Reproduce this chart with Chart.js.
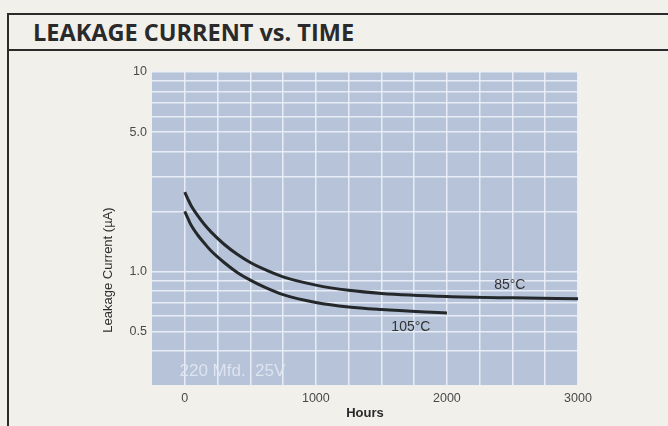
<!DOCTYPE html>
<html><head><meta charset="utf-8">
<script src="https://cdn.jsdelivr.net/npm/chart.js@4"></script>
<style>
html,body{margin:0;padding:0;background:#f1f0eb;}
#wrap{position:relative;width:668px;height:426px;overflow:hidden;background:#f1f0eb;}
#frame{position:absolute;left:7px;top:13px;width:720px;height:500px;border-top:2px solid #2b2b2b;border-left:2px solid #2b2b2b;}
#sep{position:absolute;left:8px;top:49px;width:720px;height:0;border-top:2px solid #2b2b2b;}
#title{position:absolute;left:33px;top:16px;font:bold 23.5px "Open Sans";line-height:32px;color:#2a2a2a;white-space:nowrap;}
canvas{position:absolute;left:0;top:0;}
</style></head>
<body><div id="wrap">
<div id="frame"></div><div id="sep"></div>
<div id="title">LEAKAGE CURRENT vs. TIME</div>
<canvas id="c" width="668" height="426"></canvas>
</div>
<script>
// ---- data ----
const hours85    = [0, 25, 50, 100, 150, 200, 300, 400, 500, 600, 750, 1000, 1250, 1500, 2000, 2500, 3000];
const current85  = [2.5, 2.3, 2.13, 1.9, 1.72, 1.58, 1.37, 1.22, 1.11, 1.03, 0.94, 0.855, 0.805, 0.777, 0.75, 0.738, 0.73];
const hours105   = [0, 25, 50, 100, 150, 200, 300, 400, 500, 600, 750, 1000, 1250, 1500, 2000];
const current105 = [2.0, 1.84, 1.7, 1.52, 1.385, 1.27, 1.11, 0.99, 0.905, 0.84, 0.766, 0.70, 0.664, 0.645, 0.62];
const seriesNames = ['85°C', '105°C'];
const xTickValues = [0, 1000, 2000, 3000];
const xGridValues = [0, 250, 500, 750, 1000, 1250, 1500, 1750, 2000, 2250, 2500, 2750, 3000];
const yTickValues = [0.5, 1, 5, 10];
const yTickText   = ['0.5', '1.0', '5.0', '10'];
const yGridValues = [0.4, 0.5, 0.6, 0.7, 0.8, 0.9, 1, 2, 3, 4, 5, 6, 7, 8, 9, 10];
const xTitle = 'Hours';
const yTitle = 'Leakage Current (µA)';
const noteText = '220 Mfd.  25V';

// ---- annotation placement (data coordinates) ----
const notes = [
  {text: seriesNames[0], x: 2480, y: 0.85, align: 'center', font: '14px "Liberation Sans"', color: '#333'},
  {text: seriesNames[1], x: 1725, y: 0.527, align: 'center', font: '14px "Liberation Sans"', color: '#333'},
  {text: noteText, x: -40, y: 0.317, align: 'left', font: '17px "Liberation Sans"', color: 'rgba(228,234,243,0.85)'}
];

const GRID = 'rgba(236,241,248,0.9)';

const decor = {
  id: 'decor',
  beforeDraw(chart) {
    const {ctx, chartArea: a} = chart;
    ctx.save();
    ctx.fillStyle = '#b6c3d9';
    ctx.fillRect(a.left, a.top, a.right - a.left, a.bottom - a.top);
    ctx.restore();
  },
  afterDatasetsDraw(chart) {
    const {ctx} = chart;
    const xs = chart.scales.x, ys = chart.scales.y;
    ctx.save();
    ctx.textBaseline = 'middle';
    notes.forEach(n => {
      ctx.font = n.font;
      ctx.fillStyle = n.color;
      ctx.textAlign = n.align;
      ctx.fillText(n.text, xs.getPixelForValue(n.x), ys.getPixelForValue(n.y));
    });
    ctx.translate(108, 270);
    ctx.rotate(-Math.PI / 2);
    ctx.textAlign = 'center';
    ctx.font = '13px "Liberation Sans"';
    ctx.fillStyle = '#2e2e2e';
    ctx.fillText(yTitle, 0, 0);
    ctx.restore();
  }
};

new Chart(document.getElementById('c'), {
  type: 'line',
  data: {
    datasets: [
      {label: seriesNames[0], data: hours85.map((h, i) => ({x: h, y: current85[i]}))},
      {label: seriesNames[1], data: hours105.map((h, i) => ({x: h, y: current105[i]}))}
    ].map(d => Object.assign(d, {
      borderColor: '#24282a', borderWidth: 3, pointRadius: 0, fill: false,
      cubicInterpolationMode: 'monotone', borderCapStyle: 'butt', borderJoinStyle: 'round'
    }))
  },
  options: {
    responsive: false, animation: false, devicePixelRatio: 1,
    layout: {padding: {left: 0, right: 90, top: 72, bottom: 0}},
    plugins: {legend: {display: false}, tooltip: {enabled: false}},
    scales: {
      x: {
        type: 'linear', min: -250, max: 3000, bounds: 'data',
        afterBuildTicks: s => { s.ticks = xGridValues.map(v => ({value: v})); },
        afterFit: s => { s.height = 41; },
        ticks: {
          autoSkip: false, maxRotation: 0, padding: 6,
          callback: v => xTickValues.includes(v) ? String(v) : '',
          font: {size: 12.5, family: 'Liberation Sans'}, color: '#4a4a4a'
        },
        grid: {color: GRID, lineWidth: 1.5, drawTicks: false},
        border: {display: false},
        title: {display: true, text: xTitle, padding: {top: 0, bottom: 5},
                font: {size: 13, weight: 'bold', family: 'Liberation Sans'}, color: '#2a2a2a'}
      },
      y: {
        type: 'logarithmic', min: 0.27, max: 10, bounds: 'data',
        afterBuildTicks: s => { s.ticks = yGridValues.map(v => ({value: v})); },
        afterFit: s => { s.width = 152; },
        ticks: {
          autoSkip: false, padding: 5,
          callback: v => { const i = yTickValues.indexOf(v); return i >= 0 ? yTickText[i] : ''; },
          font: {size: 12.5, family: 'Liberation Sans'}, color: '#4a4a4a'
        },
        grid: {color: GRID, lineWidth: 1.5, drawTicks: false},
        border: {display: false}
      }
    }
  },
  plugins: [decor]
});
</script>
</body></html>
